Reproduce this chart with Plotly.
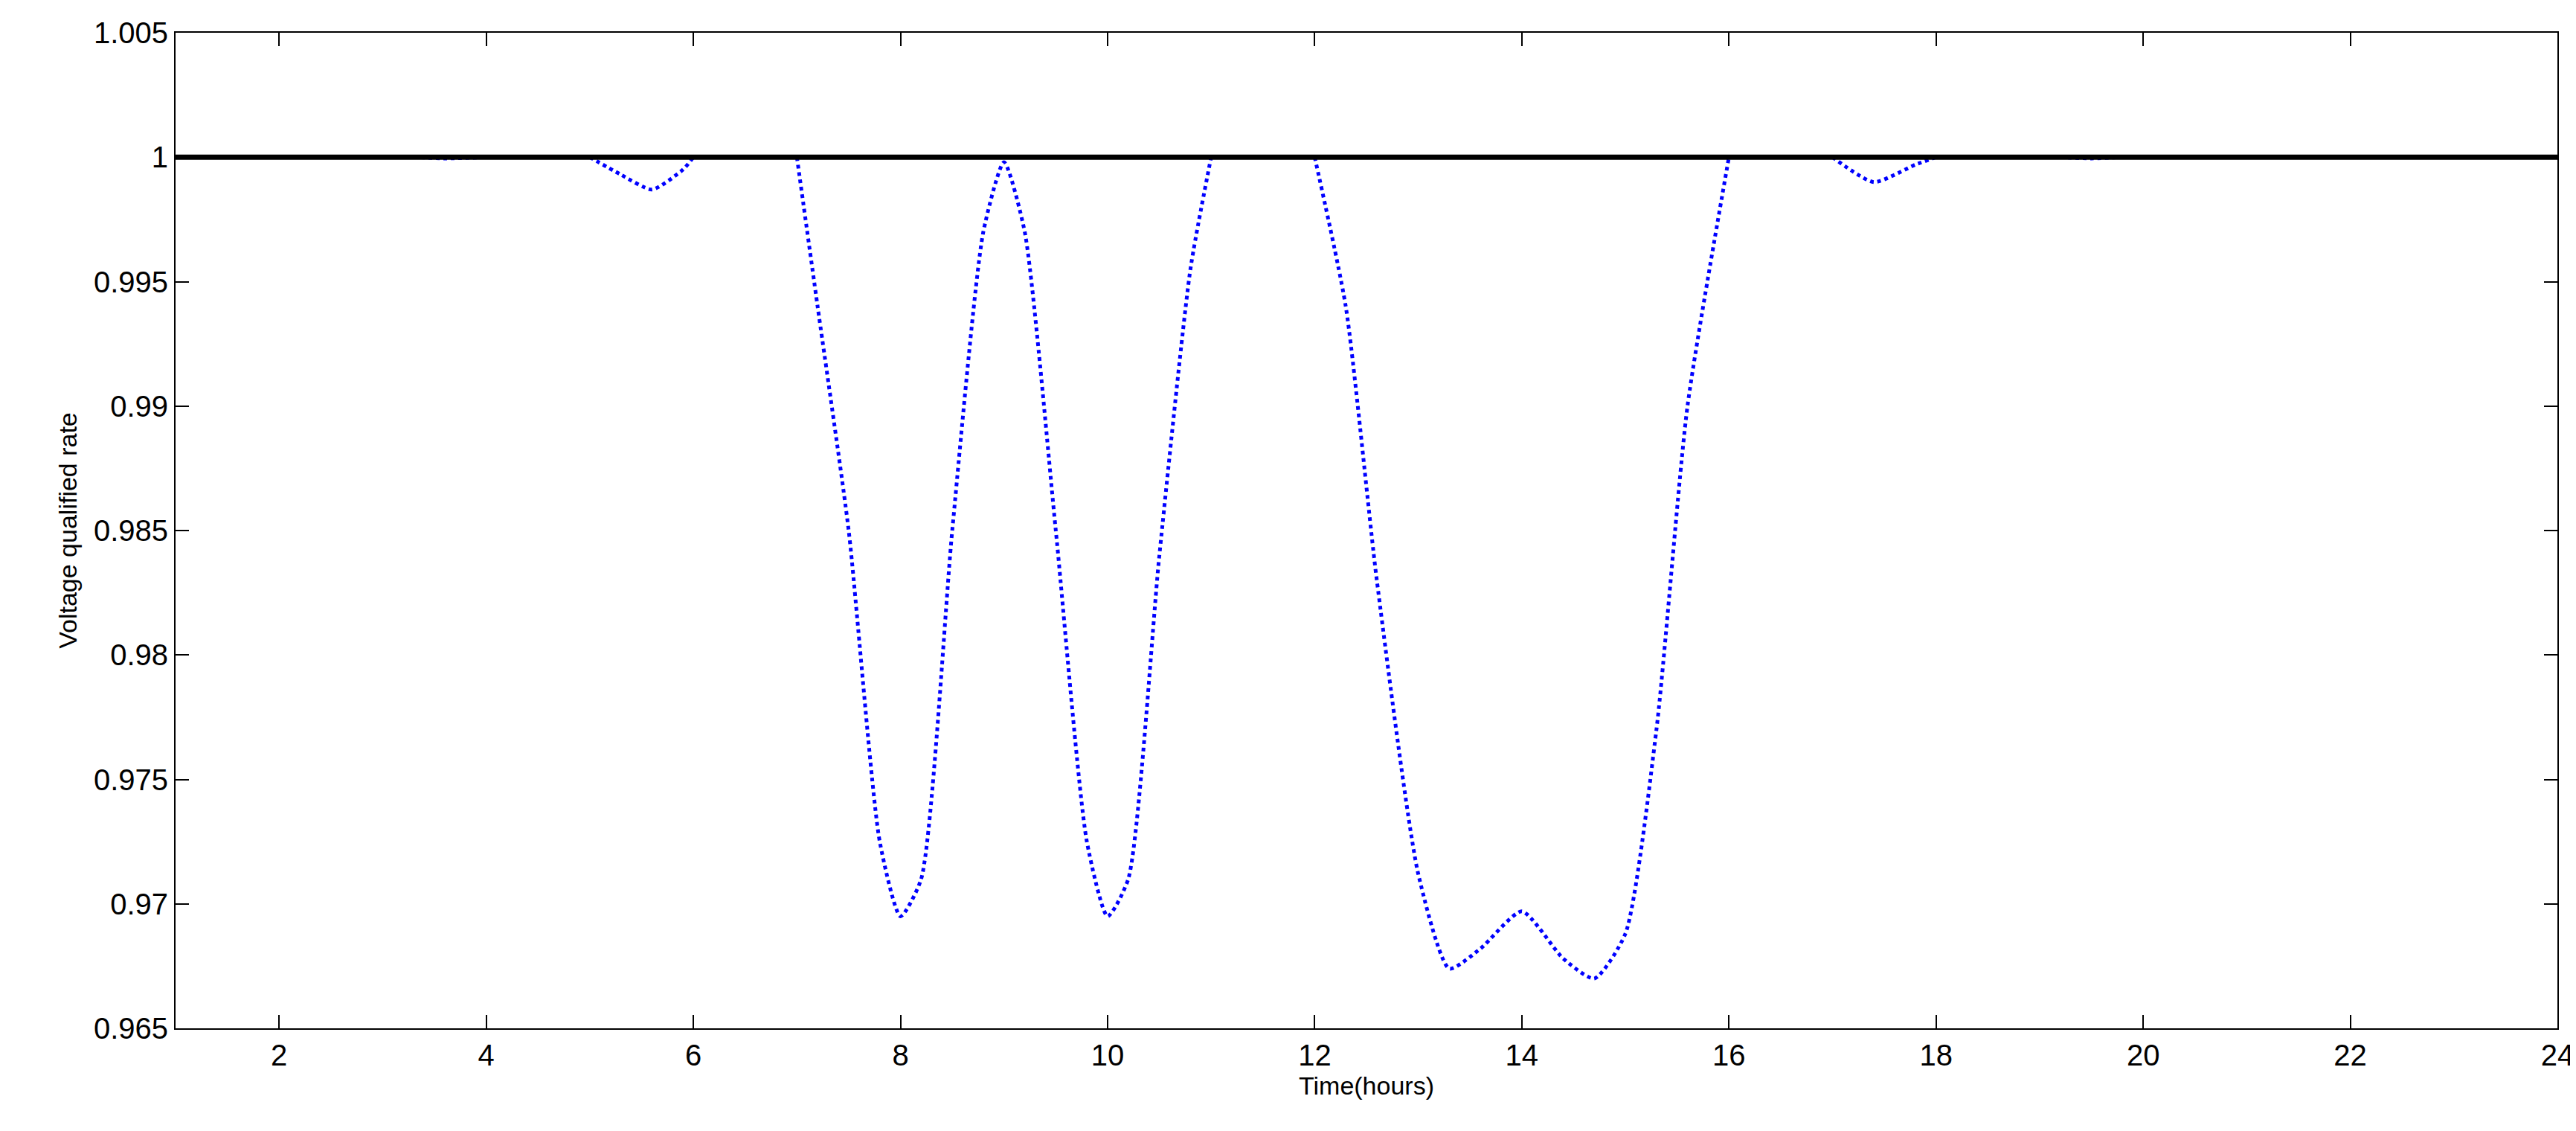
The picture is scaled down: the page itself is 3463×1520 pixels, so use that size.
import plotly.graph_objects as go

# black reference line
ref_hours = [1, 24]
ref_rate = [1, 1]

# blue dotted curve (voltage qualified rate); None breaks where the curve sits on the black line
hours = [1, 3.3, 3.6, 4, None,
         5, 5.3, 5.6, 5.9, 6, None,
         7, 7.2, 7.5, 7.8, 8, 8.2, 8.5, 8.8, 9, 9.2, 9.5, 9.8, 10, 10.2, 10.5, 10.8, 11, None,
         12, 12.3, 12.6, 13, 13.3, 13.6, 14, 14.4, 14.7, 15, 15.3, 15.6, 16, None,
         17, 17.4, 17.8, 18, None,
         19.2, 19.5, 19.8, 24]
rate = [1, 1, 0.99995, 1, None,
        1, 0.9993, 0.9987, 0.9995, 1, None,
        1, 0.994, 0.985, 0.9725, 0.9695, 0.971, 0.985, 0.997, 0.9998, 0.997, 0.985, 0.9725,
        0.9695, 0.971, 0.984, 0.9955, 1, None,
        1, 0.994, 0.983, 0.9712, 0.9674, 0.9682, 0.9697, 0.9678, 0.967, 0.9688, 0.977, 0.990, 1, None,
        1, 0.9990, 0.9997, 1, None,
        1, 0.99995, 1, 1]

xticks = list(range(2, 25, 2))
yticks = [0.965, 0.97, 0.975, 0.98, 0.985, 0.99, 0.995, 1, 1.005]
ytext = ['0.965', '0.97', '0.975', '0.98', '0.985', '0.99', '0.995', '1', '1.005']

fig = go.Figure()
fig.add_trace(go.Scatter(x=hours, y=rate, mode='lines', connectgaps=False,
                         line=dict(color='blue', width=5, dash='dot', shape='spline', smoothing=0.6)))
fig.add_trace(go.Scatter(x=ref_hours, y=ref_rate, mode='lines',
                         line=dict(color='black', width=7)))

axis = dict(showline=True, linewidth=2, linecolor='black', mirror='allticks',
            ticks='inside', ticklen=18, tickwidth=2, tickcolor='black',
            showgrid=False, zeroline=False, tickfont=dict(size=40, color='black'))

fig.update_layout(
    width=3463, height=1520,
    plot_bgcolor='white', paper_bgcolor='white',
    showlegend=False,
    font=dict(family='Liberation Sans, Arial, sans-serif', color='black'),
    margin=dict(l=228, r=33, t=36, b=146),
    xaxis=dict(axis, range=[1, 24], tickvals=xticks,
               title=dict(text='Time(hours)', font=dict(size=34), standoff=4)),
    yaxis=dict(axis, range=[0.965, 1.005], tickvals=yticks, ticktext=ytext,
               title=dict(text='Voltage qualified rate', font=dict(size=34), standoff=12)),
)

fig.write_html("out.html")
